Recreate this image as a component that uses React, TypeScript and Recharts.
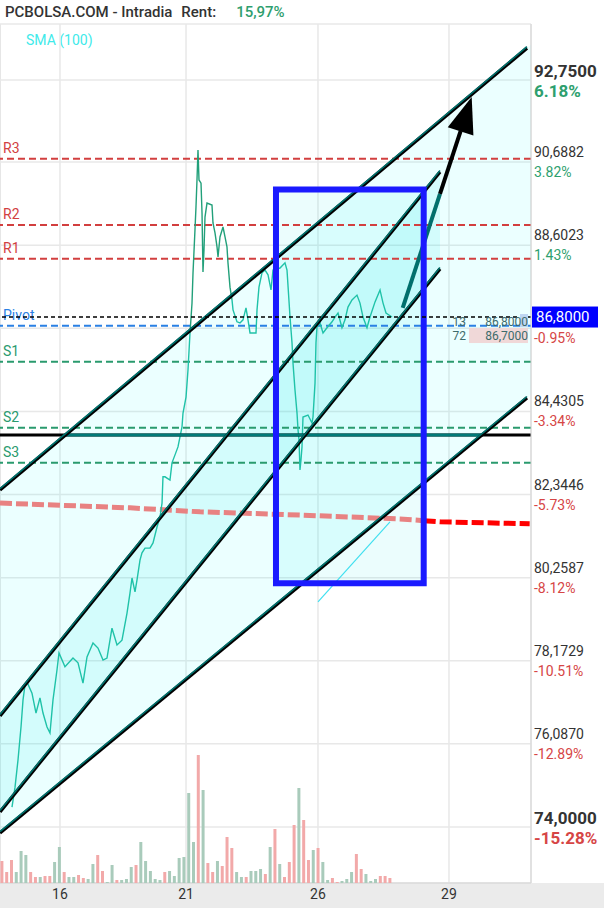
import React from 'react';
import {
  ComposedChart,
  BarChart,
  Bar,
  Cell,
  Line,
  Area,
  Scatter,
  XAxis,
  YAxis,
  CartesianGrid,
  ReferenceLine,
} from 'recharts';

// time axis: one unit = one volume bar (intraday slot)
const T_MIN = -0.376;
const T_MAX = 110.48;
const P_MIN = 72.594;
const P_MAX = 94.155;
const VOL_MAX = 859;

const dayTicks = [12.15, 38.46, 66.01, 93.36];
const dayLabels = ['16', '21', '26', '29'];

const priceTicks = [74, 76.087, 78.1729, 80.2587, 82.3446, 84.4305, 86.5164, 88.6023, 90.6882, 92.75];
const priceLabels = ['74,0000', '76,0870', '78,1729', '80,2587', '82,3446', '84,4305', '86,5164', '88,6023', '90,6882', '92,7500'];
const pctLabels = ['-15.28%', '-12.89%', '-10.51%', '-8.12%', '-5.73%', '-3.34%', '-0.95%', '1.43%', '3.82%', '6.18%'];

const volumes = [
  22, 11, 23, 11, 32, 28, 11, 6, 6, 7, 7, 21, 36, 11, 6, 6, 8, 5, 4, 19,
  28, 12, 1, 18, 3, 3, 4, 16, 18, 41, 22, 12, 4, 3, 11, 12, 7, 25, 26, 90,
  41, 128, 93, 20, 11, 22, 17, 46, 35, 11, 6, 6, 12, 12, 14, 9, 36, 54, 19, 6,
  21, 58, 95, 63, 23, 33, 35, 21, 3, 5, 1, 2, 4, 11, 29, 14, 9, 2, 4, 7, 7, 5,
];
const volDir = 'ddduuuddudduuduudduudduuduuuduuuuuduuuuuududduddduuduuudududddudduduudduuudduuudd';

const priceT = [
  2.13, 2.76, 3.38, 4.01, 4.43, 4.84, 5.26, 6.3, 7.14, 7.97,
  8.6, 9.44, 10.06, 10.69, 11.52, 11.94, 13.19, 14.86, 15.91, 16.95,
  17.79, 19.04, 20.08, 21.13, 21.96, 23.0, 24.05, 25.09, 26.14, 26.76,
  27.18, 27.81, 28.23, 28.85, 29.27, 29.9, 30.94, 31.57, 32.4, 33.03,
  33.45, 33.65, 34.07, 35.11, 35.53, 36.16, 36.78, 37.2, 37.62, 37.83,
  38.46, 38.87, 39.29, 39.71, 39.92, 40.33, 40.54, 40.75, 40.96, 41.17,
  41.59, 41.8, 42.0, 42.21, 42.42, 42.84, 43.88, 44.09, 44.51, 44.93,
  45.14, 45.55, 46.18, 46.6, 47.01, 47.22, 47.64, 48.06, 48.27, 49.1,
  49.73, 50.36, 50.98, 51.4, 51.82, 53.07, 53.28, 53.69, 54.32, 54.95,
  55.58, 56.2, 56.62, 58.08, 59.12, 59.54, 60.17, 60.59, 60.79, 61.21,
  61.63, 61.84, 62.05, 62.25, 62.46, 62.67, 62.88, 63.92, 64.76, 64.97,
  65.39, 65.59, 65.8, 66.43, 67.06, 67.89, 68.94, 69.56, 70.19, 71.02,
  71.65, 72.27, 73.11, 74.15, 74.78, 75.41, 76.24, 76.87, 77.92, 78.96,
  79.59, 80.21, 81.46,
];
const priceV = [
  74.5, 75.0, 75.68, 76.51, 77.19, 77.56, 77.64, 77.36, 76.86, 77.24,
  76.86, 76.51, 76.36, 77.19, 77.94, 78.37, 78.02, 78.24, 78.12, 77.61,
  78.27, 78.62, 78.49, 78.19, 78.24, 78.99, 78.57, 78.69, 79.37, 79.87,
  80.25, 79.9, 80.2, 80.7, 80.88, 81.0, 81.0, 81.13, 81.53, 81.78,
  82.13, 82.79, 82.79, 82.71, 83.14, 83.34, 83.54, 83.79, 84.04, 84.39,
  84.79, 85.47, 86.4, 87.15, 87.91, 88.99, 89.56, 90.24, 90.99, 90.24,
  90.16, 89.41, 87.93, 88.48, 89.31, 89.66, 89.61, 89.16, 88.91, 88.56,
  88.31, 88.81, 89.06, 88.81, 88.56, 88.16, 87.55, 87.23, 86.98, 86.68,
  86.65, 86.73, 87.03, 86.73, 86.4, 86.4, 86.98, 87.55, 87.91, 87.98,
  87.86, 87.48, 87.98, 88.03, 88.16, 87.98, 86.8, 86.15, 85.65, 84.97,
  84.39, 83.97, 83.71, 82.96, 83.21, 83.54, 84.29, 84.34, 84.14, 84.29,
  85.14, 86.15, 86.55, 86.65, 86.4, 86.53, 86.68, 86.8, 86.9, 86.53,
  86.73, 87.05, 87.23, 87.35, 87.15, 86.8, 86.53, 86.8, 87.18, 87.48,
  87.15, 86.9, 86.8,
];

const lastPrice = 86.8;
const lastPriceText = '86,8000';
const bidSize = '13';
const bidPrice = '86,8000';
const askSize = '72';
const askPrice = '86,7000';
const rentText = '15,97%';

const pivotNames = ['R3', 'R2', 'R1', 'Pivot', 'S1', 'S2', 'S3'];
const pivotValues = [90.77, 89.11, 88.26, 86.58, 85.68, 84.02, 83.14];
const supportLevel = 83.84;

// drawn channel lines [t, price]
const lineA = [[-0.376, 82.46], [109.64, 93.55]];
const lineB = [[-0.376, 76.79], [91.48, 90.44]];
const lineC = [[-0.376, 74.38], [91.48, 88.01]];
const lineD = [[-0.376, 73.85], [109.64, 84.77]];
const thinLine = [[66.01, 79.65], [81.04, 81.66]];
const smaLine = [[-0.376, 82.13], [26.8, 82.01], [41.4, 81.91], [62.3, 81.83], [83.1, 81.73], [91.5, 81.66], [110.2, 81.61]];
const boxT = [57.24, 88.08];
const boxV = [80.12, 90.0];
const arrowFrom = [83.7, 87.03];
const arrowTip = [98.1, 92.32];

const at = (pts: number[][], t: number) => {
  for (let i = 0; i < pts.length - 1; i++) {
    const [t0, v0] = pts[i];
    const [t1, v1] = pts[i + 1];
    if (t <= t1 || i === pts.length - 2) return v0 + ((v1 - v0) * (t - t0)) / (t1 - t0);
  }
  return pts[0][1];
};
const tAt = (pts: number[][], v: number) => {
  const [[t0, v0], [t1, v1]] = pts;
  return t0 + ((v - v0) * (t1 - t0)) / (v1 - v0);
};
const rows = (pts: number[][], dv = 0) => pts.map(([t, v]) => ({ t, v: v + dv }));

const volRows = volumes.map((v, i) => ({ t: i, v, up: volDir[i] === 'u' }));

// price line: darker green where it runs above the shaded channel
const priceRows = priceT.map((t, i) => ({ t, v: priceV[i] }));
const segOut = priceRows.slice(1).map((r, i) => {
  const p = priceRows[i];
  return (r.v + p.v) / 2 > at(lineA, (r.t + p.t) / 2);
});
const priceSplit = priceRows.map((r, i) => {
  const prev = i > 0 ? segOut[i - 1] : undefined;
  const next = i < segOut.length ? segOut[i] : undefined;
  return {
    t: r.t,
    o: prev === true || next === true ? r.v : null,
    n: prev === false || next === false ? r.v : null,
  };
});

const smaSplitV = at(smaLine, boxT[1]);
const smaLeft = [...rows(smaLine.filter((p) => p[0] < boxT[1])), { t: boxT[1], v: smaSplitV }];
const smaRight = [{ t: boxT[1], v: smaSplitV }, ...rows(smaLine.filter((p) => p[0] > boxT[1]))];

const fillAD = [T_MIN, T_MAX].map((t) => ({ t, r: [at(lineD, t), at(lineA, t)] }));
const fillBC = [T_MIN, lineB[1][0]].map((t) => ({ t, r: [at(lineC, t), at(lineB, t)] }));
const fillBox = boxT.map((t) => ({ t, r: [boxV[0], boxV[1]] }));
const boxOutline = rows([
  [boxT[0], boxV[1]], [boxT[1], boxV[1]], [boxT[1], boxV[0]], [boxT[0], boxV[0]], [boxT[0], boxV[1]],
]);

const supportRows = [{ t: T_MIN, v: supportLevel }, { t: T_MAX, v: supportLevel }];
const supportInner = [
  { t: tAt(lineA, supportLevel), v: supportLevel },
  { t: tAt(lineD, supportLevel), v: supportLevel },
];

const arrowAt = (f: number) => ({
  t: arrowFrom[0] + f * (arrowTip[0] - arrowFrom[0]),
  v: arrowFrom[1] + f * (arrowTip[1] - arrowFrom[1]),
});
const arrowSplit = (lineB[1][0] - arrowFrom[0]) / (arrowTip[0] - arrowFrom[0]);
const shaftIn = [arrowAt(0), arrowAt(arrowSplit)];
const shaftOut = [arrowAt(arrowSplit), arrowAt(0.84)];

const RED = '#d23f3f';
const GREEN = '#2a9a6e';
const BLUE = '#2a80e4';
const pivotColor = (n: string) => (n[0] === 'R' ? RED : n[0] === 'S' ? GREEN : BLUE);

const PriceTick = (props: any) => {
  const { x, y, payload } = props;
  const i = priceTicks.indexOf(payload.value);
  if (i < 0) return null;
  const bold = i === 0 || i === priceTicks.length - 1;
  const up = !pctLabels[i].startsWith('-');
  const hidden = Math.abs(payload.value - lastPrice) < 0.5;
  const fs = bold ? 17 : 14;
  return (
    <g>
      {!hidden && (
        <text x={x} y={y + (bold ? -2.5 : -5)} fontSize={fs} fontWeight={bold ? 700 : 400} fill="#333">
          {priceLabels[i]}
        </text>
      )}
      <text x={x} y={y + (bold ? 17.5 : 15)} fontSize={fs} fontWeight={bold ? 700 : 400} fill={up ? '#2e9f6e' : '#d64545'}>
        {pctLabels[i]}
      </text>
    </g>
  );
};

const pivotLabel = (name: string) => (props: any) => {
  const { viewBox } = props;
  return (
    <text x={viewBox.x + 3} y={viewBox.y - 6} fontSize={14} fill={pivotColor(name)}>
      {name}
    </text>
  );
};

const lastLabel = (props: any) => {
  const { viewBox } = props;
  const right = viewBox.x + viewBox.width;
  const y = viewBox.y;
  return (
    <g>
      <rect x={right - 62} y={y + 11} width={59} height={15} fill="#f0d8d8" />
      <rect x={right - 11} y={y - 3} width={8} height={13} fill="#bed6f2" />
      <text x={right - 65} y={y + 9} textAnchor="end" fontSize={12} fill="#3d6b6b">{bidSize}</text>
      <text x={right - 3} y={y + 9} textAnchor="end" fontSize={12} fill="#3d6b6b">{bidPrice}</text>
      <text x={right - 65} y={y + 23} textAnchor="end" fontSize={12} fill="#3d6b6b">{askSize}</text>
      <text x={right - 3} y={y + 23} textAnchor="end" fontSize={12} fill="#3d6b6b">{askPrice}</text>
      <rect x={right + 1} y={y - 10.5} width={66} height={21} fill="#0000ff" />
      <text x={right + 5} y={y + 5} fontSize={15} fill="#fff">{lastPriceText}</text>
    </g>
  );
};

const ArrowHead = (props: any) => {
  const { cx, cy } = props;
  return <polygon points="0,0 -13.5,36 13.5,36" transform={`translate(${cx},${cy}) rotate(18)`} fill="#000" />;
};

const lineProps = { yAxisId: 'p', type: 'linear' as const, dataKey: 'v', dot: false, activeDot: false, isAnimationActive: false };

export default function App() {
  return (
    <div style={{ position: 'absolute', left: 0, top: 0, width: 604, height: 908, background: '#fff', fontFamily: 'Roboto', overflow: 'hidden' }}>
      <div style={{ position: 'absolute', left: 0, top: 883, width: 604, height: 25, background: '#ebebeb' }} />
      <div style={{ position: 'absolute', left: 0, top: 24, width: 1, height: 859, background: '#dedede' }} />
      <div style={{ position: 'absolute', left: 5, top: 2, fontSize: 15, fontWeight: 500, color: '#333', lineHeight: '20px', whiteSpace: 'nowrap' }}>
        <span>PCBOLSA.COM - Intradia</span>
        <span style={{ marginLeft: 9 }}>Rent:</span>
        <span style={{ marginLeft: 20, color: '#2e9e6e' }}>{rentText}</span>
      </div>
      <div style={{ position: 'absolute', left: 26, top: 31, fontSize: 14, color: '#40eaea', lineHeight: '18px' }}>SMA (100)</div>
      <div style={{ position: 'absolute', left: 0, top: 0 }}>
        <ComposedChart width={604} height={908} margin={{ top: 24, right: 0, bottom: 0, left: 0 }}>
          <CartesianGrid yAxisId="p" stroke="#e8e8e8" strokeWidth={1.5} />
          <XAxis
            dataKey="t"
            type="number"
            domain={[T_MIN, T_MAX]}
            allowDataOverflow
            ticks={dayTicks}
            interval={0}
            tickFormatter={(v: number) => dayLabels[dayTicks.indexOf(v)]}
            height={25}
            tickLine={false}
            tickSize={0}
            tickMargin={6}
            axisLine={{ stroke: '#d4d4d4' }}
            tick={{ fill: '#333', fontSize: 14 }}
          />
          <YAxis
            yAxisId="p"
            orientation="right"
            width={73}
            domain={[P_MIN, P_MAX]}
            allowDataOverflow
            ticks={priceTicks}
            interval={0}
            tick={(p: any) => <PriceTick {...p} />}
            tickLine={false}
            tickSize={0}
            tickMargin={3}
            axisLine={{ stroke: '#d4d4d4' }}
          />

          <Area yAxisId="p" data={fillAD} dataKey="r" type="linear" stroke="none" fill="#00ffff" fillOpacity={0.08} isAnimationActive={false} />
          <Area yAxisId="p" data={fillBC} dataKey="r" type="linear" stroke="none" fill="#00dede" fillOpacity={0.1} isAnimationActive={false} />
          <Area yAxisId="p" data={fillBox} dataKey="r" type="linear" stroke="none" fill="#00e6e6" fillOpacity={0.08} isAnimationActive={false} />

          {pivotNames.map((n, i) => (
            <ReferenceLine
              key={n}
              yAxisId="p"
              y={pivotValues[i]}
              stroke={pivotColor(n)}
              strokeWidth={2}
              strokeDasharray="7 4"
              label={pivotLabel(n)}
            />
          ))}

          <Line {...lineProps} data={smaLeft} stroke="#e88282" strokeWidth={5} strokeDasharray="12 4" />
          <Line {...lineProps} data={smaRight} stroke="#ff0000" strokeWidth={5} strokeDasharray="12 4" />
          <Line {...lineProps} data={rows(thinLine)} stroke="#40e0f0" strokeWidth={1.2} />

          <Line {...lineProps} data={priceSplit} dataKey="n" stroke="#1fc2a8" strokeWidth={1.4} connectNulls={false} />
          <Line {...lineProps} data={priceSplit} dataKey="o" stroke="#22a07a" strokeWidth={1.4} connectNulls={false} />

          <Line {...lineProps} data={supportRows} stroke="#000" strokeWidth={3} />
          <Line {...lineProps} data={supportInner} stroke="#007a78" strokeWidth={3} />

          {[lineA, lineB, lineC, lineD].map((ln, k) => [
            <Line key={'b' + k} {...lineProps} data={rows(ln)} stroke="#000" strokeWidth={3.4} />,
            <Line key={'t' + k} {...lineProps} data={rows(ln, 0.035)} stroke="#00716d" strokeWidth={1.6} />,
          ])}

          <Line {...lineProps} data={shaftIn} stroke="#006f6c" strokeWidth={4} />
          <Line {...lineProps} data={shaftOut} stroke="#000" strokeWidth={4} />

          <Line {...lineProps} data={boxOutline} stroke="#1a1aff" strokeWidth={6} strokeLinecap="square" />

          <Scatter yAxisId="p" data={[{ t: arrowTip[0], v: arrowTip[1] }]} dataKey="v" shape={ArrowHead} isAnimationActive={false} />

          <ReferenceLine yAxisId="p" y={lastPrice} stroke="#000" strokeWidth={1.5} strokeDasharray="4 3" label={lastLabel} />
        </ComposedChart>
      </div>
      {/* volume pane shares the time scale of the price pane */}
      <div style={{ position: 'absolute', left: 0, top: 0, pointerEvents: 'none' }}>
        <BarChart width={604} height={908} data={volRows} margin={{ top: 24, right: 73, bottom: 25, left: 0 }}>
          <XAxis dataKey="t" type="number" domain={[T_MIN, T_MAX]} allowDataOverflow hide />
          <YAxis hide domain={[0, VOL_MAX]} allowDataOverflow />
          <Bar dataKey="v" barSize={3} isAnimationActive={false}>
            {volRows.map((r, i) => (
              <Cell key={i} fill={r.up ? '#a9cbbb' : '#f2a9a9'} />
            ))}
          </Bar>
        </BarChart>
      </div>
    </div>
  );
}
